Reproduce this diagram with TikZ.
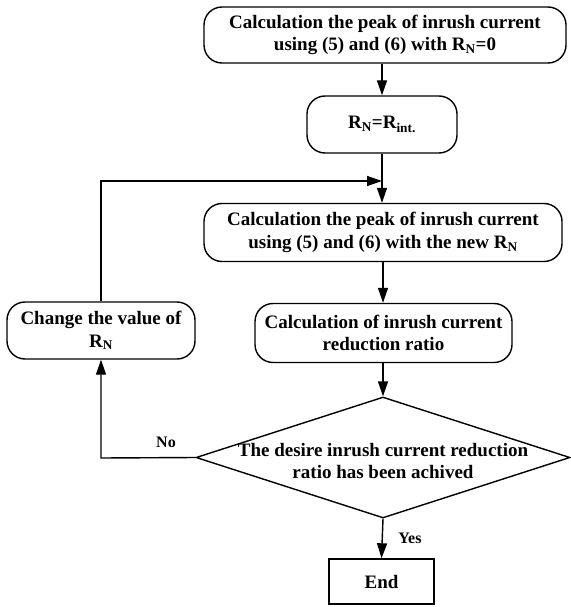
\documentclass[tikz,border=0pt]{standalone}
\usepackage{fontspec}
\setmainfont{Liberation Serif}
\usetikzlibrary{shapes.geometric,arrows.meta}
\tikzset{
  txt/.style={font=\fontsize{19}{22.5}\selectfont\bfseries, align=center},
  rbox/.style={draw, line width=1.4pt, rounded corners=18pt, inner sep=0pt, txt},
  sbox/.style={draw, line width=1.4pt, inner sep=0pt, txt},
  decbox/.style={draw, diamond, line width=1.4pt, inner sep=0pt},
  arr/.style={draw, line width=1.4pt, -{Triangle[length=15pt,width=10pt]}},
  lbl/.style={font=\fontsize{16}{19}\selectfont\bfseries}
}
\begin{document}
\begin{tikzpicture}[x=1pt,y=1pt]
\useasboundingbox[fill=white] (0,0) rectangle (570,-607);
\node[rbox, minimum width=362pt, minimum height=56pt] (b1) at (385,-35)
  {Calculation the peak of inrush current\\using (5) and (6) with R\textsubscript{N}=0};
\node[rbox, minimum width=150pt, minimum height=57pt] (b2) at (382,-124.5)
  {R\textsubscript{N}=R\textsubscript{int.}};
\node[rbox, minimum width=358pt, minimum height=58pt] (b3) at (383,-232.5)
  {Calculation the peak of inrush current\\using (5) and (6) with the new R\textsubscript{N}};
\node[rbox, minimum width=257pt, minimum height=59pt] (b4) at (383.5,-333)
  {Calculation of inrush current\\reduction ratio};
\node[rbox, minimum width=188pt, minimum height=57pt] (bl) at (101,-330.5)
  {Change the value of\\R\textsubscript{N}};
\node[decbox, minimum width=374pt, minimum height=121pt] (dec) at (383,-457.5) {};
\node[txt] (dectxt) at (383,-461) {The desire inrush current reduction\\ratio has been achived};
\node[sbox, minimum width=105pt, minimum height=45pt] (end) at (381.5,-581.5) {End};
\coordinate (m) at (382,-181);
\coordinate (c) at (101,-458);
\draw[arr] (b1.south -| b2) -- (b2.north);
\draw[arr] (b2.south) -- (b3.north -| b2);
\draw[arr] (bl.north) |- (m);
\draw[arr] (b3.south) -- (b4.north -| b3);
\draw[arr] (b4.south -| dec) -- (dec.north);
\draw[arr] (dec.south) -- (end.north);
\draw[arr] (dec.west) -- (c) -- (bl.south);
\node[lbl] (no) at (166,-442) {No};
\node[lbl] (yes) at (410,-538) {Yes};
\end{tikzpicture}
\end{document}
